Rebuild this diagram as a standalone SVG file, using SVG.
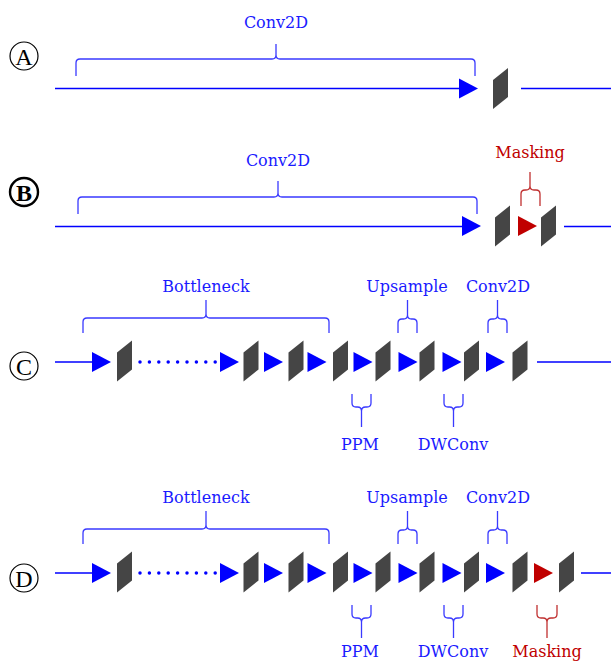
<svg xmlns="http://www.w3.org/2000/svg" xmlns:xlink="http://www.w3.org/1999/xlink" width="611" height="663" viewBox="0 0 611 663">
<style>
.ln{stroke:#0000ff;stroke-width:1.5;fill:none}
.br{stroke:#3a3aff;stroke-width:1.3;fill:none}
.brr{stroke:#c03030;stroke-width:1.3;fill:none}
.lb{font-family:"DejaVu Serif","Liberation Serif",serif;font-size:16px;fill:#1a1aff;text-anchor:middle}
.lr{fill:#c00000}
.cl{fill:none;stroke:#000;stroke-width:1.2}
.ct{font-family:"Liberation Serif",serif;font-size:24px;fill:#000;text-anchor:middle}
.blk{fill:#454545}
.tri{fill:#0000ff}
.trr{fill:#c00000}
</style>
<defs>
<path id="para" d="M0,-8.5 L15,-20.5 L15,8.5 L0,20.5 Z"/>
<path id="tri" d="M0,-10 L19,0 L0,10 Z"/>
</defs>

<!-- Row labels -->
<g id="label-A"><circle class="cl" cx="24" cy="56" r="14"/><text class="ct" x="24" y="64.5">A</text></g>
<g id="label-B"><circle class="cl" cx="24" cy="192" r="14" style="stroke-width:2.4"/><text class="ct" x="24" y="200.5" font-weight="bold">B</text></g>
<g id="label-C"><circle class="cl" cx="24" cy="366" r="14"/><text class="ct" x="24" y="374.5">C</text></g>
<g id="label-D"><circle class="cl" cx="24" cy="578" r="14"/><text class="ct" x="24" y="586.5">D</text></g>

<!-- Connectors -->
<g id="connectors">
<path class="ln" d="M55,88.5 H460"/>
<path class="ln" d="M521,88.5 H611"/>
<path class="ln" d="M55,226.5 H462"/>
<path class="ln" d="M564,226.5 H611"/>
<path class="ln" d="M55,362 H92"/>
<path class="ln" d="M537,362 H611"/>
<path d="M140,362 H216" stroke="#0000ff" stroke-width="3.5" stroke-linecap="round" stroke-dasharray="0 9.4" fill="none"/>
<path class="ln" d="M55,573 H92"/>
<path class="ln" d="M581,573 H611"/>
<path d="M140,573 H216" stroke="#0000ff" stroke-width="3.5" stroke-linecap="round" stroke-dasharray="0 9.4" fill="none"/>
</g>

<!-- Row A -->
<g id="rowA">
<g id="A-arrow"><use xlink:href="#tri" href="#tri" class="tri" x="459" y="88.5"/></g>
<g id="A-block"><use xlink:href="#para" href="#para" class="blk" x="493" y="88.5"/></g>
<g id="A-conv2d"><path class="br" d="M76,76 V63 Q76,59 80,59 H272 Q276,59 276,55 V44 M276,55 Q276,59 280,59 H471 Q475,59 475,63 V76"/><text class="lb" x="276" y="28">Conv2D</text></g>
</g>

<!-- Row B -->
<g id="rowB">
<g id="B-arrow"><use xlink:href="#tri" href="#tri" class="tri" x="462" y="226"/></g>
<g id="B-block1"><use xlink:href="#para" href="#para" class="blk" x="495" y="226"/></g>
<g id="B-mask-arrow"><use xlink:href="#tri" href="#tri" class="trr" x="518" y="226"/></g>
<g id="B-block2"><use xlink:href="#para" href="#para" class="blk" x="541" y="226"/></g>
<g id="B-conv2d"><path class="br" d="M78,214 V201 Q78,197 82,197 H274 Q278,197 278,193 V181 M278,193 Q278,197 282,197 H473 Q477,197 477,201 V214"/><text class="lb" x="278" y="166">Conv2D</text></g>
<g id="B-masking"><path class="brr" d="M521,206 V194 Q521,190 525,190 H526 Q530,190 530,186 V172 M530,186 Q530,190 534,190 H536 Q540,190 540,194 V206"/><text class="lb lr" x="530" y="158">Masking</text></g>
</g>

<!-- Row C -->
<g id="rowC">
<g id="C-arrows">
<use xlink:href="#tri" href="#tri" class="tri" x="92" y="362"/>
<use xlink:href="#tri" href="#tri" class="tri" x="220" y="362"/>
<use xlink:href="#tri" href="#tri" class="tri" x="264" y="362"/>
<use xlink:href="#tri" href="#tri" class="tri" x="307.5" y="362"/>
<use xlink:href="#tri" href="#tri" class="tri" x="353.5" y="362"/>
<use xlink:href="#tri" href="#tri" class="tri" x="398.5" y="362"/>
<use xlink:href="#tri" href="#tri" class="tri" x="442.5" y="362"/>
<use xlink:href="#tri" href="#tri" class="tri" x="486" y="362"/>
</g>
<g id="C-blocks">
<use xlink:href="#para" href="#para" class="blk" x="117" y="361"/>
<use xlink:href="#para" href="#para" class="blk" x="243.5" y="361"/>
<use xlink:href="#para" href="#para" class="blk" x="288.5" y="361"/>
<use xlink:href="#para" href="#para" class="blk" x="333" y="361"/>
<use xlink:href="#para" href="#para" class="blk" x="375.5" y="361"/>
<use xlink:href="#para" href="#para" class="blk" x="419.5" y="361"/>
<use xlink:href="#para" href="#para" class="blk" x="464" y="361"/>
<use xlink:href="#para" href="#para" class="blk" x="512.5" y="361"/>
</g>
<g id="C-bottleneck"><path class="br" d="M83,333 V322 Q83,318 87,318 H202 Q206,318 206,314 V300 M206,314 Q206,318 210,318 H325 Q329,318 329,322 V333"/><text class="lb" x="206" y="292">Bottleneck</text></g>
<g id="C-upsample"><path class="br" d="M398,333 V323 Q398,319 402,319 H403.5 Q407.5,319 407.5,315 V300 M407.5,315 Q407.5,319 411.5,319 H413 Q417,319 417,323 V333"/><text class="lb" x="407" y="292">Upsample</text></g>
<g id="C-conv2d"><path class="br" d="M488,333 V323 Q488,319 492,319 H493.5 Q497.5,319 497.5,315 V300 M497.5,315 Q497.5,319 501.5,319 H503 Q507,319 507,323 V333"/><text class="lb" x="498" y="292">Conv2D</text></g>
<g id="C-ppm"><path class="br" d="M352,394 V403 Q352,407 356,407 H357.5 Q361.5,407 361.5,411 V427 M361.5,411 Q361.5,407 365.5,407 H367 Q371,407 371,403 V394"/><text class="lb" x="360" y="450">PPM</text></g>
<g id="C-dwconv"><path class="br" d="M444,394 V403 Q444,407 448,407 H449.5 Q453.5,407 453.5,411 V427 M453.5,411 Q453.5,407 457.5,407 H459 Q463,407 463,403 V394"/><text class="lb" x="453" y="450">DWConv</text></g>
</g>

<!-- Row D -->
<g id="rowD">
<g id="D-arrows">
<use xlink:href="#tri" href="#tri" class="tri" x="92" y="573"/>
<use xlink:href="#tri" href="#tri" class="tri" x="220" y="573"/>
<use xlink:href="#tri" href="#tri" class="tri" x="264" y="573"/>
<use xlink:href="#tri" href="#tri" class="tri" x="307.5" y="573"/>
<use xlink:href="#tri" href="#tri" class="tri" x="353.5" y="573"/>
<use xlink:href="#tri" href="#tri" class="tri" x="398.5" y="573"/>
<use xlink:href="#tri" href="#tri" class="tri" x="442.5" y="573"/>
<use xlink:href="#tri" href="#tri" class="tri" x="486" y="573"/>
<use xlink:href="#tri" href="#tri" class="trr" x="534" y="573"/>
</g>
<g id="D-blocks">
<use xlink:href="#para" href="#para" class="blk" x="117" y="572"/>
<use xlink:href="#para" href="#para" class="blk" x="243.5" y="572"/>
<use xlink:href="#para" href="#para" class="blk" x="288.5" y="572"/>
<use xlink:href="#para" href="#para" class="blk" x="333" y="572"/>
<use xlink:href="#para" href="#para" class="blk" x="375.5" y="572"/>
<use xlink:href="#para" href="#para" class="blk" x="419.5" y="572"/>
<use xlink:href="#para" href="#para" class="blk" x="464" y="572"/>
<use xlink:href="#para" href="#para" class="blk" x="512.5" y="572"/>
<use xlink:href="#para" href="#para" class="blk" x="559" y="572"/>
</g>
<g id="D-bottleneck"><path class="br" d="M83,544 V533 Q83,529 87,529 H202 Q206,529 206,525 V511 M206,525 Q206,529 210,529 H325 Q329,529 329,533 V544"/><text class="lb" x="206" y="503">Bottleneck</text></g>
<g id="D-upsample"><path class="br" d="M398,544 V534 Q398,530 402,530 H403.5 Q407.5,530 407.5,526 V511 M407.5,526 Q407.5,530 411.5,530 H413 Q417,530 417,534 V544"/><text class="lb" x="407" y="503">Upsample</text></g>
<g id="D-conv2d"><path class="br" d="M488,544 V534 Q488,530 492,530 H493.5 Q497.5,530 497.5,526 V511 M497.5,526 Q497.5,530 501.5,530 H503 Q507,530 507,534 V544"/><text class="lb" x="498" y="503">Conv2D</text></g>
<g id="D-ppm"><path class="br" d="M352,605 V614 Q352,618 356,618 H357.5 Q361.5,618 361.5,622 V638 M361.5,622 Q361.5,618 365.5,618 H367 Q371,618 371,614 V605"/><text class="lb" x="360" y="657">PPM</text></g>
<g id="D-dwconv"><path class="br" d="M444,605 V614 Q444,618 448,618 H449.5 Q453.5,618 453.5,622 V638 M453.5,622 Q453.5,618 457.5,618 H459 Q463,618 463,614 V605"/><text class="lb" x="453" y="657">DWConv</text></g>
<g id="D-masking"><path class="brr" d="M537,605 V614 Q537,618 541,618 H543 Q547,618 547,622 V638 M547,622 Q547,618 551,618 H553 Q557,618 557,614 V605"/><text class="lb lr" x="547" y="657">Masking</text></g>
</g>
</svg>
